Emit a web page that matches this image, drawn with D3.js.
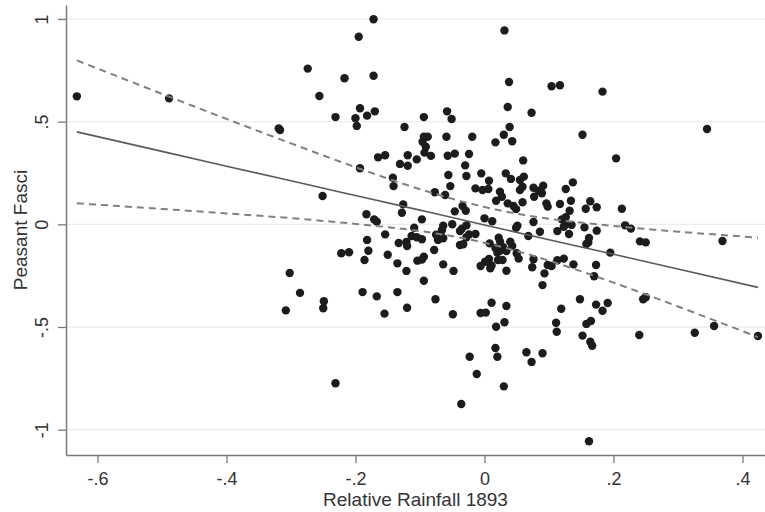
<!DOCTYPE html>
<html>
<head>
<meta charset="utf-8">
<script src="https://cdn.jsdelivr.net/npm/d3@7"></script>
<style>
  html, body { margin: 0; padding: 0; background: #fff; }
  svg { display: block; font-family: "Liberation Sans", Arial, Helvetica, sans-serif; }
</style>
</head>
<body>
<svg id="chart" width="765" height="512"></svg>
<script>
// rainfall (x) vs peasant fasci (y)
const rainfall = [
  -0.632, -0.489, -0.172, -0.195, -0.274, -0.217, -0.172, -0.256, -0.193, -0.170,
  -0.231, -0.200, -0.182, -0.198, -0.319, -0.317, -0.124, -0.165, -0.154, -0.119,
  -0.105, 0.031, 0.038, 0.104, 0.117, 0.183, 0.036, 0.073, -0.058, -0.051,
  -0.094, 0.039, 0.030, 0.043, 0.017, 0.152, -0.094, -0.088, -0.096, -0.091,
  -0.093, -0.083, -0.059, -0.019, -0.057, -0.046, -0.024, 0.060, 0.345, 0.204,
  -0.131, -0.119, -0.193, -0.142, -0.141, -0.251, -0.126, -0.128, -0.183, -0.171,
  -0.167, -0.109, -0.113, -0.105, -0.154, -0.182, -0.133, -0.121, -0.120, -0.222,
  -0.210, -0.180, -0.150, -0.186, -0.135, -0.104, -0.121, -0.302, -0.286, -0.189,
  -0.167, -0.135, -0.249, -0.250, -0.308, -0.155, -0.120, -0.030, -0.056, -0.028,
  -0.005, 0.033, 0.041, 0.061, 0.055, -0.053, 0.007, -0.014, -0.003, 0.006,
  0.024, 0.027, 0.055, 0.059, 0.076, 0.084, 0.091, 0.089, 0.077, 0.137,
  0.126, -0.077, -0.061, 0.018, 0.036, 0.045, 0.049, 0.059, 0.096, 0.098,
  0.117, 0.134, 0.164, 0.174, 0.157, -0.034, -0.029, -0.046, 0.132, 0.126,
  0.120, -0.097, 0.000, 0.012, 0.076, 0.125, 0.135, 0.123, 0.155, 0.174,
  -0.064, -0.050, -0.066, -0.035, -0.028, 0.049, 0.051, 0.113, 0.131, 0.086,
  -0.075, -0.072, -0.064, -0.038, -0.024, -0.028, -0.014, 0.068, 0.022, 0.024,
  0.008, 0.040, 0.043, -0.038, -0.033, 0.162, 0.161, 0.158, 0.017, 0.024,
  0.029, 0.034, 0.020, 0.050, 0.053, -0.078, -0.097, -0.094, -0.097, 0.021,
  0.028, 0.007, 0.001, 0.011, 0.009, -0.006, 0.076, 0.074, 0.123, 0.113,
  0.138, 0.104, 0.098, 0.173, 0.170, -0.064, -0.048, 0.034, 0.093, -0.094,
  0.090, -0.076, 0.011, 0.034, -0.049, -0.006, 0.002, 0.119, 0.148, 0.173,
  0.213, 0.218, 0.227, 0.241, 0.250, 0.369, 0.195, 0.246, 0.250, 0.191,
  0.183, 0.018, 0.031, 0.111, 0.112, 0.158, 0.165, 0.152, 0.164, 0.167,
  -0.023, 0.017, 0.020, 0.065, 0.073, 0.090, -0.012, 0.030, -0.036, 0.162,
  0.240, 0.326, 0.356, 0.424, -0.231
];
const fasci = [
  0.623, 0.613, 0.998, 0.913, 0.758, 0.711, 0.723, 0.625, 0.565, 0.550,
  0.522, 0.516, 0.529, 0.479, 0.467, 0.459, 0.474, 0.326, 0.336, 0.336,
  0.316, 0.944, 0.693, 0.672, 0.677, 0.646, 0.571, 0.543, 0.550, 0.513,
  0.522, 0.474, 0.436, 0.404, 0.399, 0.436, 0.426, 0.426, 0.402, 0.378,
  0.349, 0.333, 0.426, 0.426, 0.334, 0.344, 0.342, 0.311, 0.464, 0.321,
  0.294, 0.285, 0.273, 0.227, 0.186, 0.138, 0.097, 0.056, 0.049, 0.024,
  0.013, -0.017, -0.057, -0.063, -0.049, -0.076, -0.091, -0.086, -0.106, -0.141,
  -0.136, -0.129, -0.148, -0.174, -0.190, -0.177, -0.227, -0.237, -0.334, -0.330,
  -0.351, -0.330, -0.375, -0.409, -0.419, -0.435, -0.406, 0.287, 0.240, 0.235,
  0.248, 0.248, 0.221, 0.232, 0.216, 0.186, 0.212, 0.175, 0.167, 0.172,
  0.159, 0.134, 0.167, 0.183, 0.178, 0.164, 0.188, 0.151, 0.134, 0.204,
  0.172, 0.156, 0.143, 0.115, 0.102, 0.089, 0.074, 0.107, 0.102, 0.086,
  0.099, 0.115, 0.112, 0.083, 0.076, 0.089, 0.066, 0.063, 0.066, 0.034,
  0.024, 0.024, 0.029, 0.015, 0.011, 0.000, -0.003, -0.012, -0.015, -0.031,
  -0.007, 0.000, -0.029, -0.021, -0.005, -0.017, -0.007, -0.033, -0.047, -0.036,
  -0.051, -0.076, -0.068, -0.033, -0.049, -0.063, -0.047, -0.057, -0.065, -0.083,
  -0.093, -0.085, -0.106, -0.101, -0.097, -0.067, -0.088, -0.096, -0.115, -0.129,
  -0.112, -0.130, -0.138, -0.141, -0.167, -0.125, -0.073, -0.158, -0.172, -0.174,
  -0.174, -0.169, -0.182, -0.200, -0.214, -0.203, -0.170, -0.209, -0.167, -0.175,
  -0.195, -0.203, -0.198, -0.198, -0.253, -0.195, -0.227, -0.226, -0.239, -0.275,
  -0.296, -0.365, -0.382, -0.398, -0.438, -0.432, -0.430, -0.411, -0.365, -0.391,
  0.076, -0.005, -0.021, -0.083, -0.088, -0.081, -0.138, -0.365, -0.355, -0.383,
  -0.421, -0.499, -0.477, -0.479, -0.523, -0.485, -0.471, -0.542, -0.572, -0.591,
  -0.645, -0.602, -0.645, -0.623, -0.670, -0.628, -0.729, -0.789, -0.875, -1.056,
  -0.539, -0.528, -0.495, -0.544, -0.774
];

// fitted line and 95% band, read at these rainfall values
const bandX     = [-0.632, -0.5, -0.4, -0.3, -0.2, -0.1, 0, 0.1, 0.2, 0.3, 0.424];
const fitY      = [0.450, 0.355, 0.283, 0.212, 0.140, 0.069, -0.003, -0.075, -0.146, -0.218, -0.307];
const bandUpper = [0.798, 0.635, 0.513, 0.394, 0.278, 0.171, 0.084, 0.027, -0.008, -0.036, -0.065];
const bandLower = [0.102, 0.075, 0.053, 0.030, 0.002, -0.033, -0.090, -0.177, -0.284, -0.400, -0.549];

const xTicks = [-0.6, -0.4, -0.2, 0, 0.2, 0.4];
const yTicks = [-1, -0.5, 0, 0.5, 1];
const xTitle = "Relative Rainfall 1893";
const yTitle = "Peasant Fasci";

let W = 765, H = 512;
let margin = {top: 5, right: 0, bottom: 57, left: 66};

let svg = d3.select("#chart");

let x = d3.scaleLinear()
    .domain([-0.6488, 0.4349])
    .range([margin.left, W - margin.right]);
let y = d3.scaleLinear()
    .domain([-1.1232, 1.0677])
    .range([H - margin.bottom, margin.top]);

// stata style labels: no leading zero
const fmt = v => {
    if (v === 0) return "0";
    let s = String(+v.toFixed(2));
    return s.replace(/^(-?)0\./, "$1.");
};

// grid lines
svg.append("g")
    .selectAll("line")
    .data(yTicks)
    .enter().append("line")
        .attr("x1", margin.left)
        .attr("x2", W)
        .attr("y1", d => y(d))
        .attr("y2", d => y(d))
        .attr("stroke", "#ececec")
        .attr("stroke-width", 1.3);

// x axis
let gx = svg.append("g")
    .attr("transform", `translate(0,${H - margin.bottom})`)
    .call(d3.axisBottom(x).tickValues(xTicks).tickFormat(fmt).tickSize(8).tickSizeOuter(0));
gx.select(".domain").attr("stroke", "#7a7a7a").attr("stroke-width", 1.5);
gx.selectAll(".tick line").attr("stroke", "#7a7a7a").attr("stroke-width", 1.3);
gx.selectAll(".tick text")
    .attr("font-size", 18)
    .attr("fill", "#333")
    .attr("dy", "0")
    .attr("y", 30);

// y axis
let gy = svg.append("g")
    .attr("transform", `translate(${margin.left},0)`)
    .call(d3.axisLeft(y).tickValues(yTicks).tickFormat(fmt).tickSize(8).tickSizeOuter(0));
gy.select(".domain").attr("stroke", "#7a7a7a").attr("stroke-width", 1.5);
gy.selectAll(".tick line").attr("stroke", "#7a7a7a").attr("stroke-width", 1.3);
gy.selectAll(".tick text")
    .attr("font-size", 18)
    .attr("fill", "#333")
    .attr("text-anchor", "middle")
    .attr("x", 0)
    .attr("dy", "0")
    .attr("transform", "translate(-18,0) rotate(-90)");

// axis titles
svg.append("text")
    .attr("x", (margin.left + W) / 2)
    .attr("y", 506)
    .attr("text-anchor", "middle")
    .attr("font-size", 19)
    .attr("fill", "#333")
    .text(xTitle);
svg.append("text")
    .attr("transform", `translate(27,${(margin.top + H - margin.bottom) / 2}) rotate(-90)`)
    .attr("text-anchor", "middle")
    .attr("font-size", 19)
    .attr("fill", "#333")
    .text(yTitle);

// points
const pts = rainfall.map((r, i) => ({r: r, f: fasci[i]}));
svg.append("g")
    .selectAll("circle")
    .data(pts)
    .enter().append("circle")
        .attr("cx", d => x(d.r))
        .attr("cy", d => y(d.f))
        .attr("r", 4.2)
        .attr("fill", "#1c1c1c");

// fit + confidence band
const mk = arr => d3.line()
    .x((d, i) => x(bandX[i]))
    .y(d => y(d))
    .curve(d3.curveNatural)(arr);

svg.append("path")
    .attr("d", mk(fitY))
    .attr("fill", "none")
    .attr("stroke", "#5a5a5a")
    .attr("stroke-width", 1.6);
for (const band of [bandUpper, bandLower]) {
    svg.append("path")
        .attr("d", mk(band))
        .attr("fill", "none")
        .attr("stroke", "#808080")
        .attr("stroke-width", 2)
        .attr("stroke-dasharray", "7,5");
}
</script>
</body>
</html>
